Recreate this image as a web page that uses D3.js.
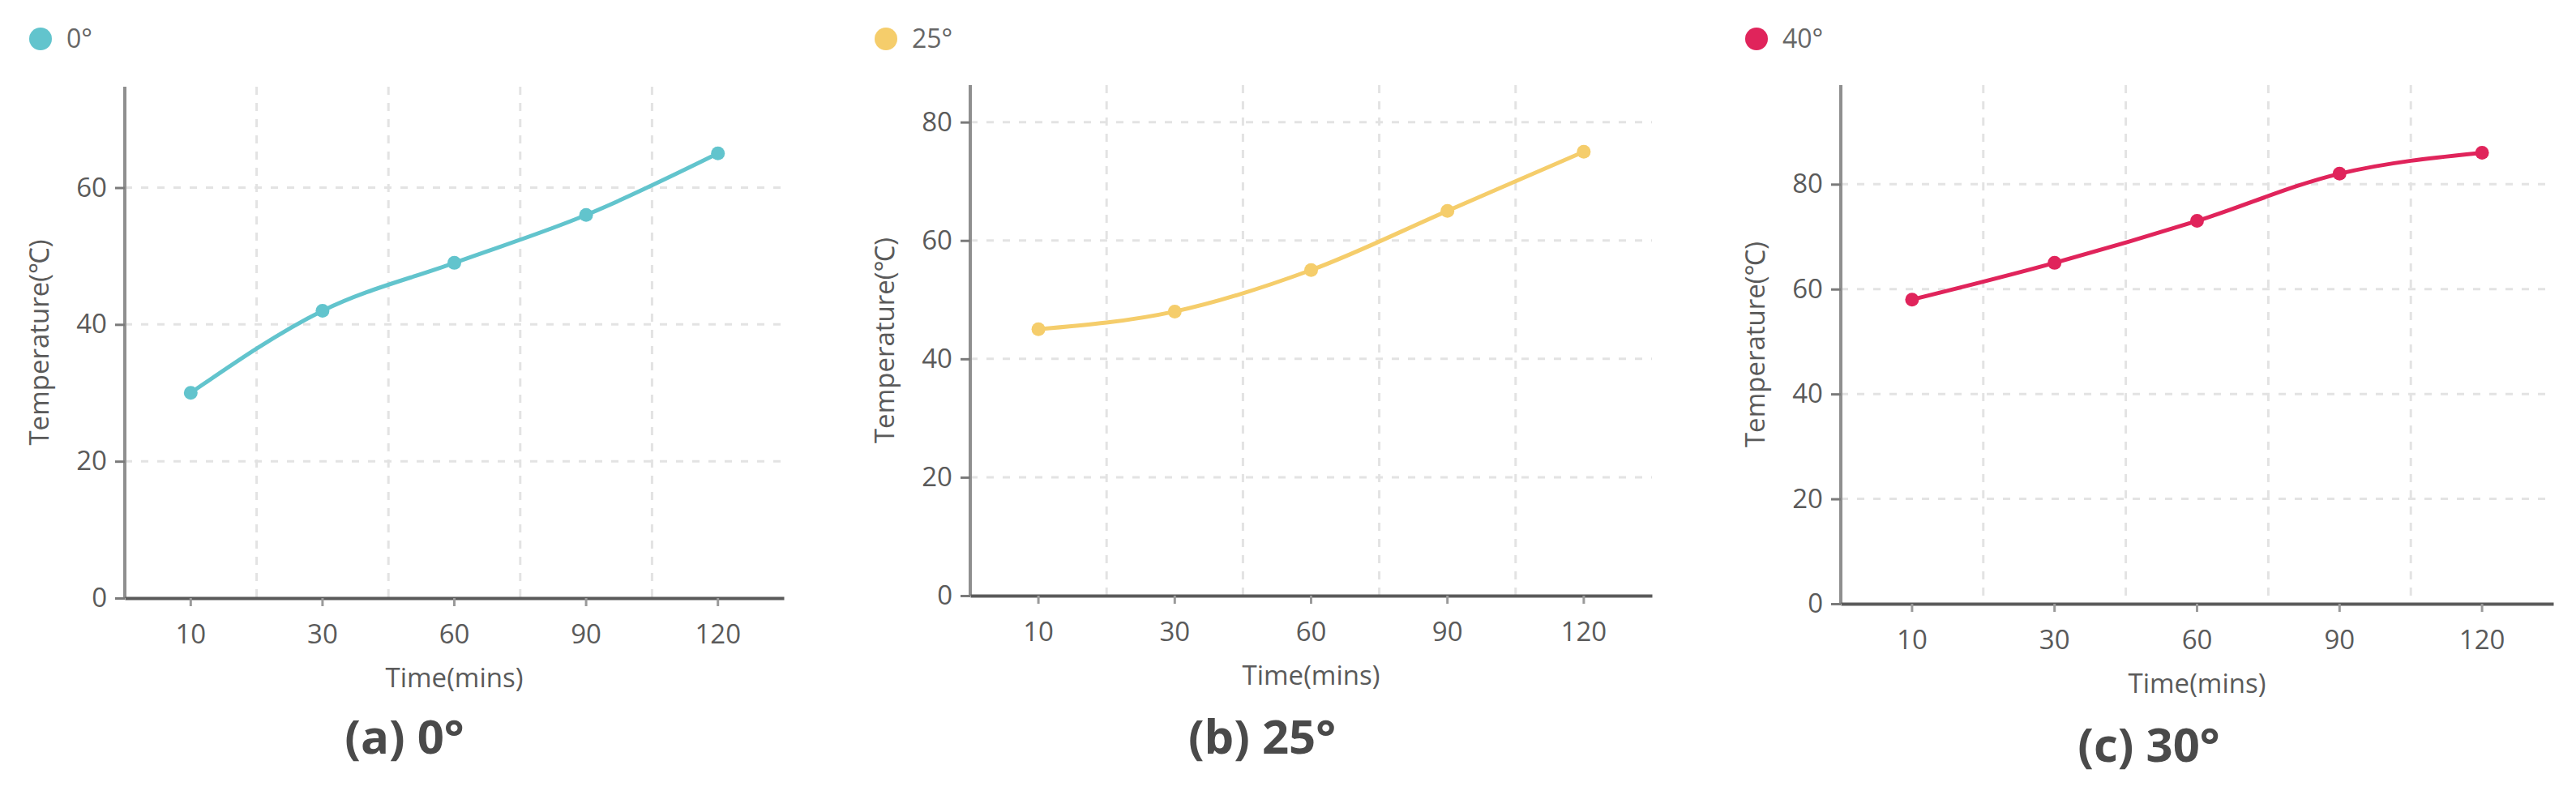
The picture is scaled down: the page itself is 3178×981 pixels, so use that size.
<!DOCTYPE html>
<html lang="en">
<head>
    <meta charset="UTF-8">
    <title>Temperature over time</title>
    <style>
        body {
            margin: 0;
            padding: 0;
            background-color: #ffffff;
        }
        svg text {
            font-family: "Open Sans", "Noto Sans", sans-serif;
        }
        .tick text {
            font-size: 33px;
            fill: #5a5a5a;
        }
        .grid line {
            stroke: #e3e3e3;
            stroke-width: 3;
        }
    </style>
</head>
<body>
    <svg id="chart"></svg>

    <script src="https://d3js.org/d3.v7.min.js"></script>
    <script>
        // data
        var categories = ['10', '30', '60', '90', '120'];
        var temp0 = [30, 42, 49, 56, 65];
        var temp25 = [45, 48, 55, 65, 75];
        var temp40 = [58, 65, 73, 82, 86];
        var legendLabels = ['0°', '25°', '40°'];
        var subtitles = ['(a) 0°', '(b) 25°', '(c) 30°'];
        var yTicks = [[0, 20, 40, 60], [0, 20, 40, 60, 80], [0, 20, 40, 60, 80]];
        var xTitle = 'Time(mins)';
        var yTitle = 'Temperature(℃)';

        var seriesList = [temp0, temp25, temp40];
        var colors = ['#62c4cd', '#f5cd6b', '#e0245b'];

        // where each small chart sits
        var panels = [
            { x0: 154, x1: 967, top: 107, bottom: 738, subX: 499, subY: 930 },
            { x0: 1197, x1: 2038, top: 105, bottom: 735, subX: 1557, subY: 930 },
            { x0: 2271, x1: 3150, top: 105, bottom: 745, subX: 2651, subY: 940 }
        ];

        var svg = d3.select('#chart')
            .attr('width', 3178)
            .attr('height', 981);

        panels.forEach(function(p, k) {
            var values = seriesList[k];
            var g = svg.append('g');

            var x = d3.scaleBand()
                .domain(categories)
                .range([p.x0, p.x1]);

            var y = d3.scaleLinear()
                .domain([0, d3.max(values) * 1.15])
                .range([p.bottom, p.top]);

            // horizontal grid (dotted)
            g.append('g')
                .attr('class', 'grid')
                .selectAll('line')
                .data(yTicks[k].filter(d => d > 0))
                .enter()
                .append('line')
                .attr('x1', p.x0)
                .attr('x2', p.x1)
                .attr('y1', d => y(d))
                .attr('y2', d => y(d))
                .attr('stroke-dasharray', '9,11');

            // vertical grid at band edges
            g.append('g')
                .attr('class', 'grid')
                .selectAll('line')
                .data(categories.slice(1))
                .enter()
                .append('line')
                .attr('x1', d => x(d))
                .attr('x2', d => x(d))
                .attr('y1', p.top)
                .attr('y2', p.bottom)
                .attr('stroke-dasharray', '10,10');

            // y axis
            var yAxis = g.append('g')
                .attr('transform', 'translate(' + p.x0 + ',0)')
                .call(d3.axisLeft(y).tickValues(yTicks[k]).tickSize(12).tickSizeOuter(0).tickPadding(10));
            yAxis.select('.domain')
                .attr('d', 'M0,' + p.bottom + 'V' + p.top)
                .attr('stroke', '#8f8f8f')
                .attr('stroke-width', 4);
            yAxis.selectAll('.tick line').attr('stroke', '#7a7a7a').attr('stroke-width', 3);

            // x axis
            var xAxis = g.append('g')
                .attr('transform', 'translate(0,' + p.bottom + ')')
                .call(d3.axisBottom(x).tickSize(10).tickSizeOuter(0).tickPadding(16));
            xAxis.select('.domain')
                .attr('stroke', '#5a5a5a')
                .attr('stroke-width', 4);
            xAxis.selectAll('.tick line').attr('stroke', '#9a9a9a').attr('stroke-width', 3);
            xAxis.selectAll('.tick text').attr('dy', '0.9em');

            // line and points
            var line = d3.line()
                .x((d, i) => x(categories[i]) + x.bandwidth() / 2)
                .y(d => y(d))
                .curve(d3.curveMonotoneX);

            g.append('path')
                .datum(values)
                .attr('d', line)
                .attr('fill', 'none')
                .attr('stroke', colors[k])
                .attr('stroke-width', 5);

            g.selectAll('circle.dot')
                .data(values)
                .enter()
                .append('circle')
                .attr('class', 'dot')
                .attr('cx', (d, i) => x(categories[i]) + x.bandwidth() / 2)
                .attr('cy', d => y(d))
                .attr('r', 8.5)
                .attr('fill', colors[k]);

            // axis titles
            g.append('text')
                .attr('x', (p.x0 + p.x1) / 2)
                .attr('y', p.bottom + 98)
                .attr('dy', '0.35em')
                .style('text-anchor', 'middle')
                .style('font-size', '33px')
                .style('fill', '#5a5a5a')
                .text(xTitle);

            g.append('text')
                .attr('transform', 'translate(' + (p.x0 - 106) + ',' + ((p.top + p.bottom) / 2) + ') rotate(-90)')
                .attr('dy', '0.35em')
                .style('text-anchor', 'middle')
                .style('font-size', '33px')
                .style('fill', '#5a5a5a')
                .text(yTitle);

            // legend
            g.append('circle')
                .attr('cx', p.x0 - 104)
                .attr('cy', 48)
                .attr('r', 14)
                .attr('fill', colors[k]);

            g.append('text')
                .attr('x', p.x0 - 72)
                .attr('y', 48)
                .attr('dy', '0.35em')
                .style('font-size', '32px')
                .style('fill', '#666666')
                .text(legendLabels[k]);

            // caption under each chart
            g.append('text')
                .attr('x', p.subX)
                .attr('y', p.subY)
                .style('text-anchor', 'middle')
                .style('font-size', '58px')
                .style('font-weight', 'bold')
                .style('fill', '#4a4a4a')
                .text(subtitles[k]);
        });
    </script>
</body>
</html>
